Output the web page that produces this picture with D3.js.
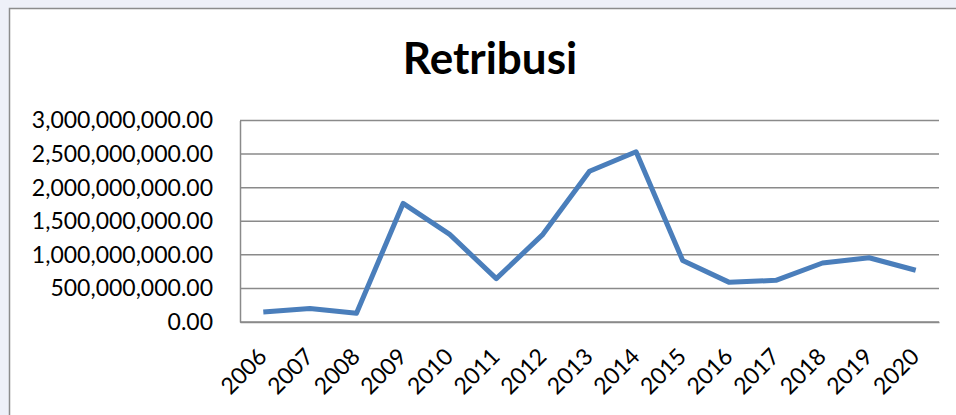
<!DOCTYPE html>
<html lang="en">
<head>
    <meta charset="UTF-8">
    <title>Retribusi</title>
    <script src="https://d3js.org/d3.v7.min.js"></script>
    <style>
        body {
            margin: 0;
            background-color: #eef0f8;
            font-family: Lato, "Open Sans", sans-serif;
        }
        svg { display: block; }
        .axis text {
            font-size: 23px;
            fill: #000;
        }
    </style>
</head>
<body>
    <div id="chart"></div>
    <script>
        const years = ["2006", "2007", "2008", "2009", "2010", "2011", "2012", "2013",
                       "2014", "2015", "2016", "2017", "2018", "2019", "2020"];
        const retribusi = [150e6, 200e6, 130e6, 1765e6, 1305e6, 645e6, 1305e6, 2245e6,
                           2535e6, 915e6, 590e6, 620e6, 878e6, 957e6, 770e6];
        const yTicks = [0, 5e8, 1e9, 1.5e9, 2e9, 2.5e9, 3e9];

        const W = 956, H = 415;
        const margin = { top: 120.5, right: 17, bottom: 93, left: 240 };

        const svg = d3.select("#chart")
            .append("svg")
            .attr("width", W)
            .attr("height", H);

        // chart frame (runs off the right and bottom edges)
        svg.append("rect")
            .attr("x", 9.5)
            .attr("y", 8.5)
            .attr("width", W + 20)
            .attr("height", H + 20)
            .attr("fill", "#fff")
            .attr("stroke", "#8c8c8c")
            .attr("stroke-width", 1.5);

        const x = d3.scaleBand().domain(years).range([margin.left, W - margin.right]).padding(0);
        const y = d3.scaleLinear().domain([0, 3e9]).range([H - margin.bottom, margin.top]);

        // Title
        svg.append("text")
            .attr("x", 490)
            .attr("y", 74)
            .attr("text-anchor", "middle")
            .style("font-size", "44px")
            .style("font-weight", "bold")
            .text("Retribusi");

        // gridlines
        svg.append("g")
            .selectAll("line")
            .data(yTicks)
            .enter().append("line")
            .attr("x1", margin.left)
            .attr("x2", W - margin.right)
            .attr("y1", d => y(d))
            .attr("y2", d => y(d))
            .attr("stroke", "#8a8a8a")
            .attr("stroke-width", 1.5);

        // y axis
        const yAxis = svg.append("g")
            .attr("class", "axis")
            .attr("transform", `translate(${margin.left},0)`)
            .call(d3.axisLeft(y).tickValues(yTicks).tickFormat(d3.format(",.2f")).tickSize(0).tickPadding(27));
        yAxis.select(".domain").attr("stroke", "#8a8a8a").attr("stroke-width", 1.5);
        yAxis.selectAll("text").style("font-family", "Lato, sans-serif");

        // x axis
        const xAxis = svg.append("g")
            .attr("class", "axis")
            .attr("transform", `translate(0,${y(0)})`)
            .call(d3.axisBottom(x).tickSize(0));
        xAxis.select(".domain").attr("stroke", "#8a8a8a").attr("stroke-width", 1.5);
        xAxis.selectAll("text")
            .attr("y", 0)
            .attr("dy", 0)
            .attr("transform", "translate(5,36) rotate(-45)")
            .style("text-anchor", "end")
            .style("font-family", "Lato, sans-serif");

        // line
        const line = d3.line()
            .x((d, i) => x(years[i]) + x.bandwidth() / 2)
            .y(d => y(d));

        svg.append("path")
            .datum(retribusi)
            .attr("fill", "none")
            .attr("stroke", "#4a7ebb")
            .attr("stroke-width", 5)
            .attr("stroke-linejoin", "round")
            .attr("d", line);
    </script>
</body>
</html>
